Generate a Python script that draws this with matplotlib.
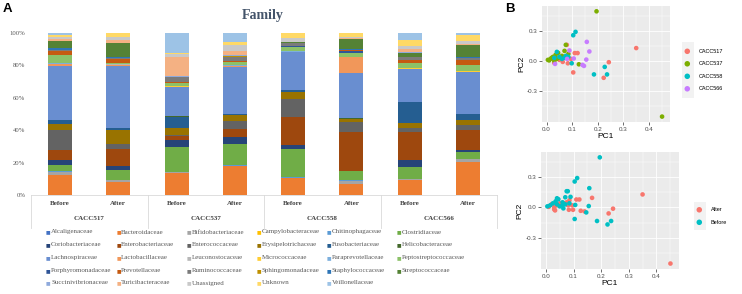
import numpy as np
import matplotlib
matplotlib.use('Agg')
import matplotlib.pyplot as plt
from matplotlib.transforms import blended_transform_factory
from matplotlib.patches import Rectangle

# ---- Panel A data: relative abundance (%) per family, bottom -> top ----
families = ['Alcaligenaceae', 'Bacteroidaceae', 'Bifidobacteriaceae', 'Campylobacteraceae',
            'Chitinophagaceae', 'Clostridiaceae', 'Coriobacteriaceae', 'Enterobacteriaceae',
            'Enterococcaceae', 'Erysipelotrichaceae', 'Fusobacteriaceae', 'Helicobacteraceae',
            'Lachnospiraceae', 'Lactobacillaceae', 'Leuconostocaceae', 'Micrococcaceae',
            'Paraprevotellaceae', 'Peptostreptococcaceae', 'Porphyromonadaceae', 'Prevotellaceae',
            'Ruminococcaceae', 'Sphingomonadaceae', 'Staphylococcaceae', 'Streptococcaceae',
            'Succinivibrionaceae', 'Turicibacteraceae', 'Unassigned', 'Unknown', 'Veillonellaceae']
fam_colors = ['#4472C4', '#ED7D31', '#A5A5A5', '#FFC000', '#5B9BD5', '#70AD47',
              '#264478', '#9E480E', '#636363', '#997300', '#255E91', '#43682B',
              '#698ED0', '#F1975A', '#B7B7B7', '#FFCD33', '#7CAFDD', '#8CC168',
              '#2F5597', '#C55A11', '#7B7B7B', '#BF9000', '#2E75B6', '#548235',
              '#8FAADC', '#F4B183', '#C9C9C9', '#FFD966', '#9DC3E6']
sample_labels = ['Before', 'After'] * 4
groups = ['CACC517', 'CACC537', 'CACC558', 'CACC566']

cacc517_before = [0.3, 12.5, 1.6, 0.2, 0.3, 4.0, 3.3, 6.0, 12.5, 4.0, 2.3, 0.2, 34.0, 1.0, 0.2,
                  0.2, 0.3, 5.0, 0.3, 2.0, 1.0, 0.1, 1.2, 4.0, 0.2, 1.2, 1.3, 1.6, 1.0]
cacc517_after = [0.2, 8.0, 1.2, 0.2, 0.2, 5.8, 2.9, 11.0, 3.0, 9.0, 1.0, 0.2, 39.0, 1.0, 0.2,
                 0.2, 0.2, 0.5, 0.2, 2.5, 0.5, 0.1, 0.3, 9.0, 0.2, 2.0, 2.0, 2.0, 0.3]
cacc537_before = [0.2, 14.0, 0.3, 0.1, 0.2, 16.0, 4.0, 3.0, 0.5, 4.5, 7.0, 0.2, 18.5, 0.3, 0.2,
                  0.1, 0.2, 2.0, 0.2, 0.3, 3.0, 0.1, 0.2, 0.3, 0.2, 12.0, 2.0, 0.5, 13.0]
cacc537_after = [0.2, 18.0, 0.3, 0.1, 0.2, 13.4, 4.7, 5.0, 5.0, 4.0, 0.5, 0.2, 30.0, 0.3, 0.2,
                 0.1, 0.2, 2.0, 0.2, 0.3, 3.0, 0.1, 0.2, 0.3, 0.2, 3.0, 3.7, 1.5, 6.0]
cacc558_before = [0.2, 10.5, 0.3, 0.1, 0.2, 18.0, 3.0, 17.7, 11.7, 4.5, 1.0, 0.2, 24.0, 0.2, 0.2,
                  0.1, 0.2, 3.0, 0.2, 0.3, 1.6, 0.1, 0.2, 0.3, 0.2, 0.3, 2.5, 2.7, 0.3]
cacc558_after = [0.2, 6.8, 2.0, 0.1, 0.2, 5.8, 0.5, 25.0, 6.0, 1.7, 0.5, 0.2, 29.0, 10.0, 0.2,
                 0.1, 0.2, 2.0, 1.7, 0.3, 0.3, 0.1, 0.3, 6.6, 0.2, 0.3, 1.0, 2.0, 0.3]
cacc566_before = [0.2, 9.5, 0.3, 0.1, 0.2, 7.2, 4.5, 18.0, 2.0, 3.7, 12.8, 0.2, 20.6, 0.3, 0.2,
                  0.1, 0.2, 3.0, 0.2, 2.0, 1.5, 0.1, 0.2, 2.7, 0.2, 2.0, 2.0, 3.5, 4.7]
cacc566_after = [0.2, 20.8, 1.6, 0.1, 0.2, 4.0, 1.6, 12.3, 3.0, 3.7, 3.5, 0.2, 26.0, 0.3, 0.2,
                 0.1, 0.2, 3.7, 0.2, 3.0, 1.5, 0.1, 0.2, 7.8, 0.2, 0.3, 2.0, 4.0, 1.0]

# ---- Panel B data: PCoA coordinates ----
pc1 = [0.223, 0.104, 0.079, 0.063, 0.040, 0.050,
       0.350, 0.243, 0.121, 0.110, 0.083, 0.070, 0.095, 0.030,
       0.195, 0.005, 0.015, 0.025, 0.035, 0.045, 0.070, 0.075, 0.060,
       0.451, 0.126, 0.010, 0.020, 0.030, 0.055, 0.085, 0.040,
       0.113, 0.104, 0.185, 0.236, 0.040, 0.070, 0.085, 0.060,
       0.227, 0.098, 0.050, 0.075, 0.030,
       0.157, 0.155, 0.146, 0.089, 0.106,
       0.167, 0.033, 0.080, 0.140]
pc2 = [-0.169, -0.115, 0.160, -0.010, 0.030, 0.010,
       0.128, -0.013, 0.078, 0.078, -0.024, 0.040, 0.020, -0.020,
       0.495, 0.010, 0.020, 0.040, 0.060, 0.080, 0.100, 0.160, 0.050,
       -0.556, -0.034, 0.005, 0.030, 0.000, 0.030, 0.070, 0.020,
       0.290, 0.256, -0.135, -0.135, 0.090, 0.030, 0.040, 0.020,
       -0.060, -0.024, 0.040, 0.050, 0.030,
       0.190, 0.013, -0.050, 0.104, 0.024,
       0.094, -0.030, 0.020, -0.040]
pc_group = (['CACC517'] * 14 + ['CACC537'] * 17 + ['CACC558'] * 13 + ['CACC566'] * 9)
pc_time = (['Before'] * 6 + ['After'] * 8 + ['Before'] * 9 + ['After'] * 8 +
           ['Before'] * 8 + ['After'] * 5 + ['Before'] * 5 + ['After'] * 4)

W, H = 742, 294
fig = plt.figure(figsize=(W / 100, H / 100), dpi=100)
SERIF = 'Liberation Serif'
SANS = 'Liberation Sans'


def px_axes(l, t, r, b):
    return fig.add_axes([l / W, 1 - b / H, (r - l) / W, (b - t) / H])


# ================= Panel A =================
ax = px_axes(31, 33, 497, 195)
data = np.array([cacc517_before, cacc517_after, cacc537_before, cacc537_after,
                 cacc558_before, cacc558_after, cacc566_before, cacc566_after])
data = data / data.sum(axis=1, keepdims=True) * 100
x = np.arange(len(sample_labels))
bottom = np.zeros(len(x))
for i, fam in enumerate(families):
    ax.bar(x, data[:, i], bottom=bottom, width=0.41, color=fam_colors[i], linewidth=0)
    bottom += data[:, i]

ax.set_xlim(-0.5, 7.5)
ax.set_ylim(0, 100)
ax.set_yticks(range(0, 101, 20))
ax.set_yticklabels([f'{v}%' for v in range(0, 101, 20)], family=SERIF)
ax.set_xticks(x)
ax.set_xticklabels(sample_labels, family=SERIF, fontweight='bold')
ax.tick_params(axis='y', length=0, pad=4, labelsize=4.8, labelcolor='#595959')
ax.tick_params(axis='x', length=0, pad=4, labelsize=5, labelcolor='#404040')
for s in ['top', 'right', 'left']:
    ax.spines[s].set_visible(False)
ax.spines['bottom'].set_color('#D9D9D9')
ax.spines['bottom'].set_linewidth(0.6)

trans = blended_transform_factory(ax.transData, ax.transAxes)
for xs in [-0.5, 1.5, 3.5, 5.5, 7.5]:
    ax.plot([xs, xs], [0, -0.205], transform=trans, clip_on=False, color='#D9D9D9', lw=0.6)
for g, name in enumerate(groups):
    ax.text(2 * g + 0.5, -0.142, name, transform=trans, ha='center', va='center',
            fontsize=5, fontweight='bold', color='#404040', family=SERIF)

fig.text(263 / W, 1 - 15 / H, 'Family', ha='center', va='center', fontsize=10,
         fontweight='bold', color='#44546A', family=SERIF)

# legend, row-major, 6 columns
for k, name in enumerate(families):
    row, col = divmod(k, 6)
    xm = 46 + col * 70.2
    ym = 232 + row * 12.75
    fig.text(xm / W, 1 - ym / H, '\u25A0', fontsize=3.5, color=fam_colors[k],
             ha='left', va='center', family='DejaVu Sans')
    fig.text((xm + 5) / W, 1 - ym / H, name, fontsize=5, color='#595959',
             ha='left', va='center', family=SERIF)

fig.text(7.5 / W, 1 - 9.5 / H, 'A', fontsize=9.5, fontweight='bold', ha='center',
         va='center', family=SANS)
fig.text(510 / W, 1 - 9 / H, 'B', fontsize=9.5, fontweight='bold', ha='center',
         va='center', family=SANS)

# ================= Panel B =================
col4 = {'CACC517': '#F8766D', 'CACC537': '#7CAE00', 'CACC558': '#00BFC4', 'CACC566': '#C77CFF'}
col2 = {'After': '#F8766D', 'Before': '#00BFC4'}
pc1 = np.array(pc1)
pc2 = np.array(pc2)
pc_group = np.array(pc_group)
pc_time = np.array(pc_time)


def gg_style(a):
    a.set_facecolor('#EBEBEB')
    for s in a.spines.values():
        s.set_visible(False)
    a.set_xlim(-0.018, 0.482)
    a.set_ylim(-0.61, 0.548)
    a.set_xticks([0, 0.1, 0.2, 0.3, 0.4])
    a.set_xticklabels(['0.0', '0.1', '0.2', '0.3', '0.4'], family=SANS)
    a.set_yticks([-0.3, 0, 0.3])
    a.set_yticklabels(['-0.3', '0.0', '0.3'], family=SANS)
    a.set_xticks([0.05, 0.15, 0.25, 0.35, 0.45], minor=True)
    a.set_yticks([-0.45, -0.15, 0.15, 0.45], minor=True)
    a.grid(which='major', color='white', lw=0.6)
    a.grid(which='minor', color='white', lw=0.3)
    a.set_axisbelow(True)
    a.tick_params(which='major', length=2, width=0.5, color='#333333', labelsize=4.5,
                  labelcolor='#4D4D4D', pad=1.5)
    a.tick_params(which='minor', length=0)
    a.set_xlabel('PC1', fontsize=6, labelpad=1, family=SANS)
    a.set_ylabel('PC2', fontsize=6, labelpad=1, family=SANS)


axt = px_axes(542, 6, 670, 122)
gg_style(axt)
for g in groups:
    m = pc_group == g
    axt.scatter(pc1[m], pc2[m], s=11, color=col4[g], edgecolors='none', label=g)
fig.add_artist(Rectangle((682 / W, 1 - 98 / H), 12 / W, 56 / H, transform=fig.transFigure,
                         facecolor='#F2F2F2', edgecolor='none', zorder=0))
axt.legend(loc='center left', bbox_to_anchor=(684.5 / W, 1 - 70 / H),
           bbox_transform=fig.transFigure, frameon=False, prop={'family': SANS, 'size': 4},
           handlelength=1.0, handletextpad=1.6, labelspacing=1.35, borderpad=0,
           borderaxespad=0, markerscale=1.2)

axb = px_axes(541, 152, 679, 269)
gg_style(axb)
for t in ['After', 'Before']:
    m = pc_time == t
    axb.scatter(pc1[m], pc2[m], s=11, color=col2[t], edgecolors='none', label=t)
fig.add_artist(Rectangle((694 / W, 1 - 230 / H), 12 / W, 28 / H, transform=fig.transFigure,
                         facecolor='#F2F2F2', edgecolor='none', zorder=0))
axb.legend(loc='center left', bbox_to_anchor=(696.5 / W, 1 - 216 / H),
           bbox_transform=fig.transFigure, frameon=False, prop={'family': SANS, 'size': 4},
           handlelength=1.0, handletextpad=1.6, labelspacing=1.35, borderpad=0,
           borderaxespad=0, markerscale=1.2)

fig.savefig('out.png', dpi=100)
